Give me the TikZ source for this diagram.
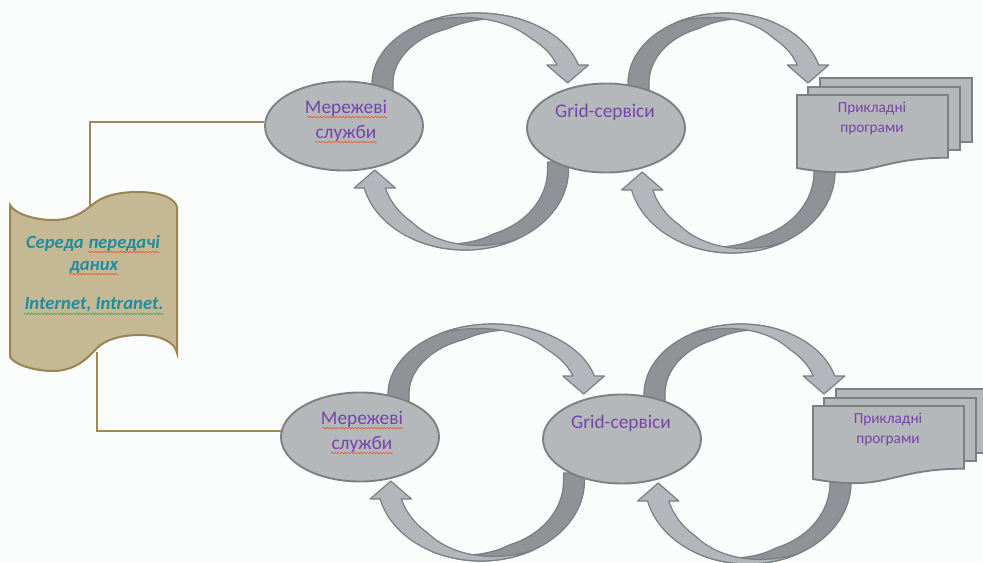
\documentclass[tikz,border=0pt]{standalone}
\usepackage{fontspec}
\setmainfont{Carlito}
\usetikzlibrary{calc,decorations.pathmorphing,shapes.geometric}
\definecolor{bgc}{HTML}{FBFCFC}
\definecolor{alightc}{HTML}{B3B7BB}
\definecolor{adarkc}{HTML}{8F9397}
\definecolor{alinec}{HTML}{7B7F83}
\definecolor{ellc}{HTML}{B5B8BB}
\definecolor{ellline}{HTML}{7D8083}
\definecolor{scrollc}{HTML}{C5B995}
\definecolor{scrollline}{HTML}{9A8452}
\definecolor{connc}{HTML}{9E8A55}
\definecolor{purp}{HTML}{7445A8}
\definecolor{tealc}{HTML}{1F8D9F}
\definecolor{sqred}{HTML}{E8603A}
\definecolor{sqgreen}{HTML}{4CA85A}
% curved block arrow: cx, cy, R, H, rotation
\newcommand\carrow[5]{%
\begin{scope}[shift={(#1,#2)},rotate=#5]
\pgfmathsetmacro\caO{asin(18/#4)}%
\pgfmathsetmacro\caI{asin(18/(#4-12))}%
\pgfmathsetmacro\caXo{#3*cos(\caO)}%
\pgfmathsetmacro\caXi{(#3-21)*cos(\caI)}%
\pgfmathsetmacro\caTip{(\caXo+\caXi)/2}%
\filldraw[adark] (-#3,8) -- plot[domain=180:60,samples=50,variable=\t] ({#3*cos(\t)},{-#4*sin(\t)})
  -- plot[domain=60:180,samples=50,variable=\t] ({(#3-21*min(1,max(0,(\t-60)/50)))*cos(\t)},{-(#4-12*min(1,max(0,(\t-60)/50)))*sin(\t)})
  -- (-#3+21,8) -- cycle;
\filldraw[alight] plot[domain=120:\caO,samples=50,variable=\t] ({#3*cos(\t)},{-#4*sin(\t)})
  -- (\caXo+10,-18) -- (\caTip,0) -- (\caXi-10,-18)
  -- plot[domain=\caI:120,samples=50,variable=\t] ({(#3-21*min(1,max(0,(120-\t)/70)))*cos(\t)},{-(#4-12*min(1,max(0,(120-\t)/70)))*sin(\t)})
  -- cycle;
\end{scope}}
\begin{document}
\begin{tikzpicture}[x=0.75pt,y=-0.75pt,
  adark/.style={fill=adarkc,draw=alinec,line width=0.9pt,line join=round},
  alight/.style={fill=alightc,draw=alinec,line width=0.9pt,line join=round},
  ell/.style={ellipse,fill=ellc,draw=ellline,line width=1.4pt,minimum width=118.5pt,minimum height=66.75pt,inner sep=0pt},
  docst/.style={fill=ellc,draw=ellline,line width=1.4pt,line join=miter},
  etxt/.style={inner sep=0pt,text=purp,font=\fontsize{14.5}{16}\selectfont},
  dtxt/.style={inner sep=0pt,text=purp,font=\fontsize{11.5}{14}\selectfont},
  stxt/.style={inner sep=0pt,text=tealc,font=\fontsize{14}{16}\selectfont\bfseries\itshape},
  conn/.style={draw=connc,line width=1.5pt},
  scrollst/.style={fill=scrollc,draw=scrollline,line width=1.5pt},
  sqr/.style={draw=sqred,line width=0.5pt,decorate,decoration={snake,amplitude=0.6pt,segment length=2.4pt}},
  sqg/.style={draw=sqgreen,line width=0.5pt,decorate,decoration={snake,amplitude=0.6pt,segment length=2.4pt}}]
\fill[bgc] (0,0) rectangle (983,562);
\useasboundingbox (0,0) rectangle (983,562);

\foreach \r/\sx/\sy in {a/0/0,b/16/311}{
\begin{scope}[shift={(\sx,\sy)}]
  \carrow{477}{83}{105}{70}{0}
  \carrow{725}{83}{97}{70}{0}
  \carrow{465}{170}{103.5}{80}{180}
  \carrow{732}{172}{103}{81}{180}
  \node[ell] (e1\r) at (344,126) {};
  \node[ell] (e2\r) at (606,128) {};
  \node[etxt] (m1\r) at (346,108) {Мережеві};
  \node[etxt] (m2\r) at (346,133) {служби};
  \draw[sqr] ($(m1\r.base west)+(2,4)$) -- ($(m1\r.base east)+(0,4)$);
  \draw[sqr] ($(m2\r.base west)+(0,4)$) -- ($(m2\r.base east)+(0,4)$);
  \node[etxt] (g\r) at (605,112) {Grid-сервіси};
  % multidocument
  \filldraw[docst] (820,78) rectangle (972,142);
  \filldraw[docst] (808,87) rectangle (960,150);
  \filldraw[docst] (797,95) -- (948,95) -- (948,157.7) .. controls (872.5,157.7) and (872.5,181.6) .. (797,168) -- cycle;
  \node[dtxt] (p1\r) at (872,108) {Прикладні};
  \node[dtxt] (p2\r) at (872,130) {програми};
\end{scope}
}

\coordinate (sctop) at (90,215);
\coordinate (scbot) at (97,352);
\draw[conn] (sctop) |- (e1a.177);
\draw[conn] (scbot) |- (e1b.176);

% scroll (wave shape)
\filldraw[scrollst] (10,205) .. controls (15,214) and (35,220) .. (53,220)
  .. controls (73,220) and (83,212) .. (92,205)
  .. controls (102,196) and (118,192) .. (138,192)
  .. controls (160,192) and (175,198) .. (177,207)
  -- (177,353) .. controls (175,342) and (160,335) .. (140,335)
  .. controls (120,335) and (105,340) .. (97,348)
  .. controls (88,358) and (75,371) .. (53,371)
  .. controls (35,371) and (15,365) .. (10,357) -- cycle;
\node[stxt,anchor=base east] (s1a) at (84,248) {Середа};
\node[stxt,anchor=base west] (s1b) at (88,248) {передачі};
\node[stxt] (s2) at (94,267) {даних};
\node[stxt] (s3) at (94,305) {Internet, Intranet.};
\draw[sqr] ($(s1b.base west)+(0,4)$) -- ($(s1b.base east)+(0,4)$);
\draw[sqr] ($(s2.base west)+(0,4)$) -- ($(s2.base east)+(0,4)$);
\draw[sqg] ($(s3.base west)+(0,4)$) -- ($(s3.base east)+(0,4)$);
\end{tikzpicture}
\end{document}
